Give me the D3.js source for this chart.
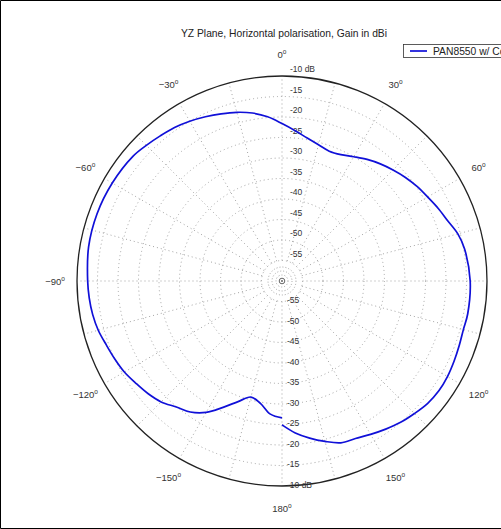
<!DOCTYPE html>
<html><head><meta charset="utf-8">
<script src="https://cdn.jsdelivr.net/npm/d3@7"></script>
<style>
body{margin:0;background:#fff}
svg{display:block}
text{font-family:"Liberation Sans",Arial,sans-serif}
</style>
</head><body>
<svg id="chart" width="501" height="529"></svg>
<script>
// Measured pattern: azimuth (deg, clockwise from 0 at top) and gain (dBi)
const angles = [-180,-175,-170,-165,-160,-155,-150,-145,-140,-135,-130,-125,-120,-115,-110,-105,-100,-95,-90,-80,-70,-60,-50,-45,-40,-35,-30,-25,-20,-15,-10,-5,0,5,10,15,20,25,30,35,40,45,50,55,60,65,70,75,80,90,100,105,110,115,120,125,130,135,140,145,150,155,160,165,170,175,180];
const gain   = [-26.6,-27.4,-29.7,-30.7,-28.7,-26.0,-23.0,-21.0,-19.9,-18.3,-17.3,-16.5,-15.6,-15.0,-14.4,-13.6,-13.1,-12.8,-12.6,-12.1,-12.0,-12.2,-12.6,-13.2,-13.8,-14.3,-15.0,-15.8,-16.6,-17.4,-18.4,-19.8,-21.6,-23.2,-24.6,-25.6,-26.3,-26.0,-25.0,-23.8,-22.7,-21.7,-20.7,-19.8,-19.0,-18.0,-17.0,-15.6,-14.8,-14.1,-14.0,-14.2,-14.0,-13.7,-13.4,-13.3,-13.6,-14.3,-15.0,-15.9,-16.8,-17.6,-18.0,-19.5,-21.1,-22.8,-24.9];

const ringTicks  = [-10,-15,-20,-25,-30,-35,-40,-45,-50,-55];
const angleTicks = [0,30,60,90,120,150,180,-150,-120,-90,-60,-30];
const spokeStep  = 15;
const titleText  = "YZ Plane, Horizontal polarisation, Gain in dBi";
const seriesName = "PAN8550 w/ Cover";

const svg = d3.select("#chart");
const W = 501, H = 529;
const cx = 282, cy = 281, R = 205;
const rScale = d3.scaleLinear().domain([-60, -10]).range([0, R]);
const rad = d => d * Math.PI / 180;

// frame
svg.append("path")
  .attr("d", `M${W},0.5 H0.5 V${H-0.5} H${W}`)
  .attr("fill", "none").attr("stroke", "#000").attr("stroke-width", 1);

const g = svg.append("g").attr("transform", `translate(${cx},${cy})`);

// spokes
g.append("g").selectAll("line")
  .data(d3.range(0, 360, spokeStep))
  .join("line")
  .attr("x1", d => rScale(-55) * Math.sin(rad(d)))
  .attr("y1", d => -rScale(-55) * Math.cos(rad(d)))
  .attr("x2", d => R * Math.sin(rad(d)))
  .attr("y2", d => -R * Math.cos(rad(d)))
  .attr("stroke", "#9a9a9a").attr("stroke-width", 0.9)
  .attr("stroke-dasharray", "1,3");

// rings
g.append("g").selectAll("circle")
  .data(ringTicks.slice(1))
  .join("circle")
  .attr("r", d => rScale(d))
  .attr("fill", "none").attr("stroke", "#9a9a9a").attr("stroke-width", 0.9)
  .attr("stroke-dasharray", "1,3");

// small rings round the origin
g.append("g").selectAll("circle")
  .data([6, 10, 14])
  .join("circle")
  .attr("r", d => d)
  .attr("fill", "none").attr("stroke", "#9a9a9a").attr("stroke-width", 0.9)
  .attr("stroke-dasharray", "1,2");
g.append("circle").attr("r", 2.8).attr("fill", "none").attr("stroke", "#555").attr("stroke-width", 0.9);
g.append("circle").attr("r", 0.9).attr("fill", "#555");

// outer ring
g.append("circle").attr("r", rScale(-10))
  .attr("fill", "none").attr("stroke", "#222").attr("stroke-width", 1.3);

// ring labels, above and below the origin
const ringLab = g.append("g").attr("font-size", 8.5).attr("fill", "#333");
ringTicks.forEach(v => {
  const t = v === -10 ? v + " dB" : String(v);
  ringLab.append("text").attr("x", 8).attr("y", -rScale(v) - 4).text(t);
  ringLab.append("text").attr("x", 5).attr("y", rScale(v) + 1.5).text(t);
});

// angle labels
const angLab = g.append("g").attr("font-size", 9.5).attr("fill", "#333")
  .attr("text-anchor", "middle");
angleTicks.forEach(a => {
  const rr = R + 22;
  const t = angLab.append("text")
    .attr("x", rr * Math.sin(rad(a)))
    .attr("y", -rr * Math.cos(rad(a)) + 3.5);
  t.append("tspan").text(String(a).replace("-", "\u2212"));
  t.append("tspan").attr("font-size", 6.5).attr("dy", -4).text("o");
});

// pattern trace
const pts = angles.map((a, i) => [a, gain[i]]);
const radial = d3.lineRadial()
  .angle(d => rad(d[0]))
  .radius(d => rScale(d[1]))
  .curve(d3.curveCatmullRom);
g.append("path").attr("d", radial(pts))
  .attr("fill", "none").attr("stroke", "#1010d8").attr("stroke-width", 1.7);

// title
svg.append("text").attr("x", 284).attr("y", 37)
  .attr("text-anchor", "middle").attr("font-size", 10.3).attr("fill", "#222")
  .text(titleText);

// legend
const lg = svg.append("g").attr("transform", "translate(403,44)");
lg.append("rect").attr("x", 0.5).attr("y", 0.5).attr("width", 130).attr("height", 13)
  .attr("fill", "#fff").attr("stroke", "#333").attr("stroke-width", 0.8);
lg.append("line").attr("x1", 7).attr("x2", 24).attr("y1", 7).attr("y2", 7)
  .attr("stroke", "#1010d8").attr("stroke-width", 1.7);
lg.append("text").attr("x", 30).attr("y", 10.8).attr("font-size", 10.3).attr("fill", "#222")
  .text(seriesName);
</script>
</body></html>
